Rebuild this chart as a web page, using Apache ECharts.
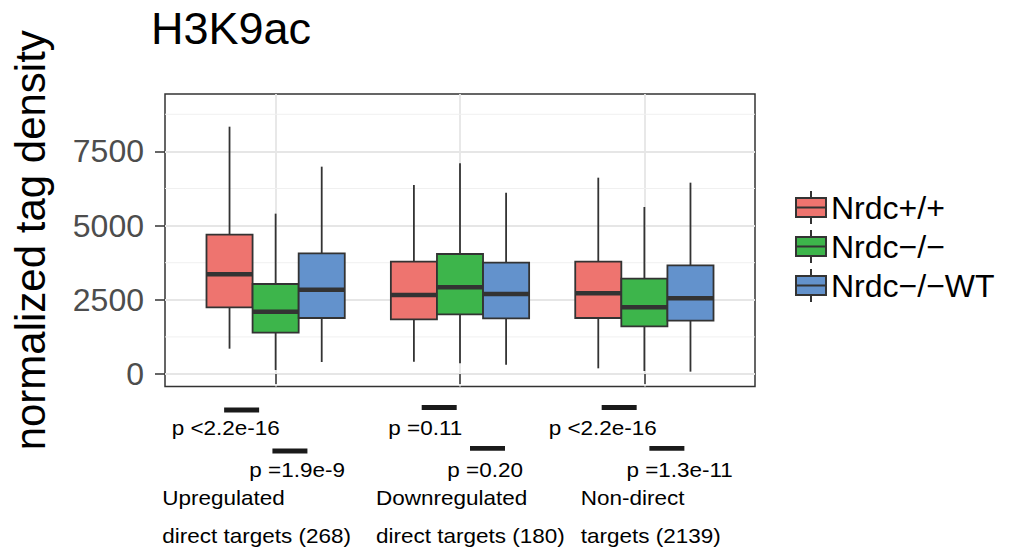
<!DOCTYPE html>
<html>
<head>
<meta charset="utf-8">
<script src="https://cdn.jsdelivr.net/npm/echarts@6/dist/echarts.min.js"></script>
<style>
html,body{margin:0;padding:0;background:#fff;}
#chart{width:1016px;height:550px;}
</style>
</head>
<body>
<div id="chart"></div>
<script>
// ---- data ----
const genotypes = ['Nrdc+/+', 'Nrdc\u2212/\u2212', 'Nrdc\u2212/\u2212WT'];
const groupLine1 = ['Upregulated', 'Downregulated', 'Non-direct'];
const groupLine2 = ['direct targets (268)', 'direct targets (180)', 'targets (2139)'];
const pUpper = ['p <2.2e-16', 'p =0.11', 'p <2.2e-16'];
const pLower = ['p =1.9e-9', 'p =0.20', 'p =1.3e-11'];
// [lower whisker, Q1, median, Q3, upper whisker] per group
const wtValues  = [[853, 2246, 3358, 4694, 8332], [416, 1842, 2662, 3785, 6367], [191, 1887, 2718, 3785, 6614]];
const koValues  = [[135, 1392, 2100, 3032, 5402], [359, 2010, 2920, 4043, 7097], [101, 1606, 2246, 3211, 5626]];
const resValues = [[404, 1887, 2841, 4065, 6985], [314, 1876, 2695, 3751, 6109], [79, 1797, 2549, 3661, 6446]];
const yTicks = [0, 2500, 5000, 7500];
const yMinorGrid = [1250, 3750, 6250, 8750];
const xTicks = [1, 2, 3];

// ---- layout / style ----
const Y_MIN = -421, Y_MAX = 9433;
const X_MIN = 0.4, X_MAX = 3.6;
const DODGE = 0.25, BOX_W = 0.25;
const colors = ['#EE746F', '#3DB54B', '#6392CC'];
const FONT = 'Liberation Sans, Arial, Helvetica, sans-serif';
const annot = {
  bar1: [-34, -20.8, -25.2], bar2: [14.3, 27.5, 22.5],
  p1: [-103.9, -71.7, -95.7], p2: [-26.3, -12.7, -18],
  lab: [-113.3, -84, -63.7],
  barY1: [23.5, 21, 21], barY2: [64.5, 61.8, 61.8],
  textY: [41.5, 84, 112, 149.5]
};

const allValues = [wtValues, koValues, resValues];

function boxRender(k) {
  return function (params, api) {
    const cat = api.value(0);
    const xc = cat + (k - 1) * DODGE;
    const pLow = api.coord([xc, api.value(1)]);
    const pQ1 = api.coord([xc, api.value(2)]);
    const pMed = api.coord([xc, api.value(3)]);
    const pQ3 = api.coord([xc, api.value(4)]);
    const pHigh = api.coord([xc, api.value(5)]);
    const hw = api.size([BOX_W, 0])[0] / 2;
    const stroke = '#333333';
    return {
      type: 'group',
      children: [
        { type: 'line', shape: { x1: pHigh[0], y1: pHigh[1], x2: pQ3[0], y2: pQ3[1] }, style: { stroke: stroke, lineWidth: 1.8 } },
        { type: 'line', shape: { x1: pQ1[0], y1: pQ1[1], x2: pLow[0], y2: pLow[1] }, style: { stroke: stroke, lineWidth: 1.8 } },
        { type: 'rect', shape: { x: pQ3[0] - hw, y: pQ3[1], width: 2 * hw, height: pQ1[1] - pQ3[1] }, style: { fill: colors[k], stroke: stroke, lineWidth: 1.8 } },
        { type: 'line', shape: { x1: pMed[0] - hw, y1: pMed[1], x2: pMed[0] + hw, y2: pMed[1] }, style: { stroke: stroke, lineWidth: 4.5 } }
      ]
    };
  };
}

const boxSeries = genotypes.map(function (name, k) {
  return {
    name: name,
    type: 'custom',
    z: 3,
    itemStyle: { color: colors[k] },
    encode: { x: 0, y: [1, 2, 3, 4, 5] },
    data: allValues[k].map(function (v, i) { return [xTicks[i]].concat(v); }),
    renderItem: boxRender(k)
  };
});

const minorGridSeries = {
  type: 'custom',
  name: 'minorGrid',
  silent: true,
  z: 1,
  encode: { x: 0, y: 1 },
  data: yMinorGrid.map(function (v) { return [X_MIN, v]; }),
  renderItem: function (params, api) {
    const cs = params.coordSys;
    const y = api.coord([X_MIN, api.value(1)])[1];
    return { type: 'line', shape: { x1: cs.x, y1: y, x2: cs.x + cs.width, y2: y }, style: { stroke: '#F0F0F0', lineWidth: 1 } };
  }
};

const annotSeries = {
  type: 'custom',
  name: 'annotations',
  silent: true,
  clip: false,
  z: 5,
  encode: { x: 0, y: 1 },
  data: xTicks.map(function (x) { return [x, Y_MIN]; }),
  renderItem: function (params, api) {
    const i = params.dataIndex;
    const p = api.coord([api.value(0), api.value(1)]);
    const cx = p[0], by = p[1];
    const ts = function (txt, dx, dy) {
      return { type: 'text', x: cx + dx, y: by + dy, scaleY: 0.9, style: { text: txt, fill: '#000', font: '22.5px ' + FONT, textAlign: 'left', textVerticalAlign: 'middle' } };
    };
    return {
      type: 'group',
      children: [
        { type: 'rect', shape: { x: cx + annot.bar1[i] - 17.5, y: by + annot.barY1[i] - 2.4, width: 35, height: 4.8 }, style: { fill: '#1a1a1a' } },
        { type: 'rect', shape: { x: cx + annot.bar2[i] - 17.5, y: by + annot.barY2[i] - 2.4, width: 35, height: 4.8 }, style: { fill: '#1a1a1a' } },
        ts(pUpper[i], annot.p1[i], annot.textY[0]),
        ts(pLower[i], annot.p2[i], annot.textY[1]),
        ts(groupLine1[i], annot.lab[i], annot.textY[2]),
        ts(groupLine2[i], annot.lab[i], annot.textY[3])
      ]
    };
  }
};

const legendIcon = 'path://M0,7L30,7L30,26L0,26Z M0,16.5L30,16.5 M15,0L15,7 M15,26L15,33';

const chart = echarts.init(document.getElementById('chart'), null, { renderer: 'svg' });
chart.setOption({
  animation: false,
  backgroundColor: '#ffffff',
  textStyle: { fontFamily: FONT },
  title: {
    text: 'H3K9ac',
    left: 151,
    top: 6,
    padding: 0,
    textStyle: { fontSize: 45, fontWeight: 'normal', color: '#000', fontFamily: FONT }
  },
  legend: {
    orient: 'vertical',
    left: 795,
    top: 190,
    itemWidth: 30,
    itemHeight: 33,
    itemGap: 4,
    padding: 0,
    icon: legendIcon,
    itemStyle: { borderColor: '#333333', borderWidth: 2 },
    textStyle: { fontSize: 32, color: '#000', fontFamily: FONT },
    data: genotypes.map(function (g) { return { name: g, icon: legendIcon }; })
  },
  grid: {
    left: 165, top: 94, right: 261, bottom: 163.5,
    show: true, borderColor: '#333333', borderWidth: 1.5, backgroundColor: '#ffffff',
    containLabel: false
  },
  xAxis: {
    type: 'value',
    min: X_MIN, max: X_MAX,
    axisLine: { show: false },
    axisTick: { show: true, customValues: xTicks, length: 10, lineStyle: { color: '#333333', width: 1.5 } },
    axisLabel: { show: false, customValues: xTicks },
    splitLine: { show: true, lineStyle: { color: '#E6E6E6', width: 1.8 } }
  },
  yAxis: {
    type: 'value',
    min: Y_MIN, max: Y_MAX,
    name: 'normalized tag density',
    nameLocation: 'middle',
    nameRotate: 90,
    nameGap: 114,
    nameTextStyle: { fontSize: 42, color: '#000', fontFamily: FONT },
    axisLine: { show: false },
    axisTick: { show: true, customValues: yTicks, length: 10, lineStyle: { color: '#333333', width: 1.5 } },
    axisLabel: { show: true, customValues: yTicks, margin: 21, fontSize: 32, color: '#4D4D4D', fontFamily: FONT,
      formatter: function (v) { return String(v); } },
    splitLine: { show: true, lineStyle: { color: '#E6E6E6', width: 1.8 } }
  },
  series: [minorGridSeries].concat(boxSeries).concat([annotSeries])
});
</script>
</body>
</html>
